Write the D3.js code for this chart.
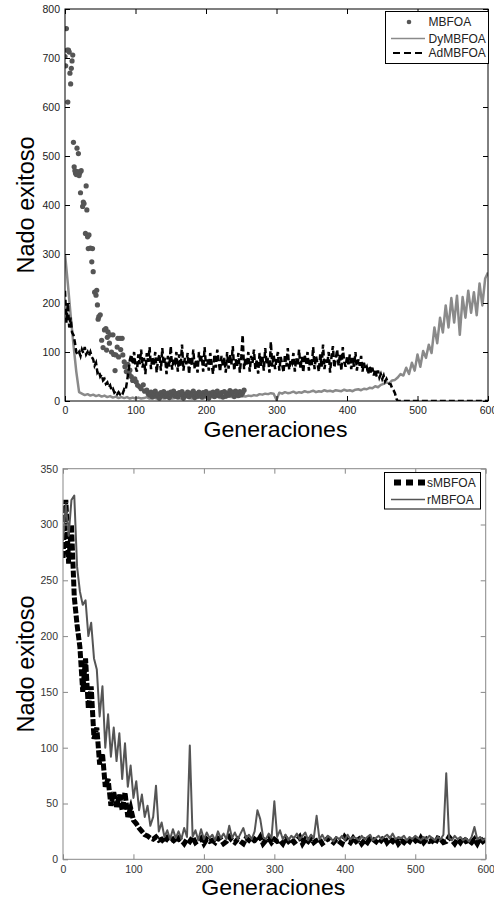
<!DOCTYPE html>
<html><head><meta charset="utf-8">
<script src="https://cdn.jsdelivr.net/npm/d3@7"></script>
<style>body{margin:0;background:#fff}svg{display:block}text{font-family:"Liberation Sans",Arial,sans-serif}</style>
</head><body>
<script>
// ---------- DATA ----------
const genStep = 4;   // generations between stored values (DyMBFOA, sMBFOA, rMBFOA)
const adStep = 2;    // generations between stored values (AdMBFOA)
const xTickValues = [0,100,200,300,400,500,600];
const yTicksTop = [0,100,200,300,400,500,600,700,800];
const yTicksBottom = [0,50,100,150,200,250,300,350];
const xLabel = "Generaciones";
const yLabel = "Nado exitoso";

// Top panel
const mbfoaGen = [0,1,2,3,4,5,6,7,8,9,10,11,12,13,14,15,16,17,18,19,20,21,22,23,25,26,27,29,30,31,32,33,34,36,38,39,40,42,44,45,46,47,48,50,52,54,56,58,59,60,61,63,64,66,68,69,71,72,74,75,76,78,79,81,82,84,85,87,89,91,92,94,96,97,99,101,103,106,108,111,113,116,118,
 120,122,124,126,128,130,132,134,136,138,140,142,144,146,148,150,152,154,156,158,160,162,164,166,168,170,172,174,176,178,180,182,184,186,188,190,192,194,196,198,200,202,204,206,208,210,212,214,216,218,220,222,224,226,228,230,232,234,236,238,240,242,244,246,248,250,252,254];
const mbfoaVal = [703,684,760,716,610,716,712,669,647,679,694,706,528,478,470,465,462,516,468,505,460,466,425,470,397,406,403,342,439,390,335,311,339,312,284,311,264,222,216,226,196,167,172,176,124,109,145,148,104,130,141,118,135,100,135,95,62,94,110,128,90,128,105,128,94,80,70,60,75,55,63,50,42,43,45,39,32,29,25,33,20,22,15,
 12,18,8,15,20,10,14,6,17,11,19,9,13,16,7,18,12,20,10,15,8,17,13,19,6,14,11,18,9,16,12,20,7,15,10,18,13,8,17,11,19,14,6,16,12,18,9,15,20,11,13,17,8,19,10,16,12,21,14,18,9,20,15,11,19,13,17,22];
const dymbfoa = [300,240,175,115,60,18,15,12,14,11,13,10,12,9,11,8,10,7,9,6,8,6,8,5,7,5,
 7,5,6,8,5,7,6,4,7,5,6,8,5,6,7,5,6,8,6,5,7,6,8,5,7,6,8,7,9,6,8,7,9,8,10,8,9,10,
 9,11,10,12,11,14,13,15,14,16,15,2,17,15,18,16,17,19,16,18,17,20,18,19,21,18,20,19,22,20,21,19,22,21,20,23,21,
 22,20,23,24,22,25,24,27,26,30,28,33,35,38,36,42,43,48,55,
 52,68,55,78,62,95,70,102,88,115,98,150,118,170,140,195,150,210,160,215,135,212,170,225,180,222,175,240,195,250,262];
const admbfoa = [225,160,200,150,170,140,135,120,100,95,100,92,105,98,110,95,100,92,100,90,
 85,72,78,58,62,50,54,42,45,35,38,28,32,22,25,17,20,14,18,14,19,16,24,22,40,60,84,95,75,100,70,
 60,95,75,105,68,88,55,98,80,110,
 65,90,72,100,58,85,95,62,108,75,
 88,55,92,70,112,64,85,78,100,60,
 95,70,115,62,88,75,98,55,90,72,
 105,65,85,58,100,78,92,60,110,70,
 85,62,98,75,55,95,68,105,80,60,
 92,72,88,58,100,66,95,75,112,62,
 85,70,98,58,90,135,65,88,72,100,
 60,92,78,105,65,85,56,98,72,90,
 62,108,75,88,58,121,70,95,65,85,
 100,62,90,75,58,95,70,108,64,85,
 78,98,60,88,72,105,66,90,58,95,
 75,100,62,88,70,110,65,92,78,60,
 95,70,115,65,85,75,100,58,90,112,
 68,85,105,72,95,62,110,80,70,90,
 75,95,65,88,70,100,62,85,72,92,
 60,78,65,70,55,72,58,68,52,65,
 50,62,48,55,45,52,40,45,38,35,
 34,26,22,16,5,0,0,0,0,0,
 0,0,0,0,0,0,0,0,0,0,0,0,0,0,0,0,0,0,0,0,0,0,0,0,0,0,0,0,0,0,
 0,0,0,0,0,0,0,0,0,0,0,0,0,0,0,0,0,0,0,0,0,0,0,0,0,0,0,0,0,0];

// Bottom panel
const smbfoa = [270,322,265,300,235,210,190,150,180,135,155,108,118,85,95,65,72,48,60,47,58,44,60,38,46,35,32,28,25,22,21,19,18,20,17,18,15,19,
 16,18,15,19,17,14,18,16,20,15,17,19,14,18,16,17,15,19,18,14,16,20,17,15,18,16,14,19,17,15,18,16,20,14,17,19,15,18,16,17,
 14,19,16,18,15,17,20,14,18,16,19,15,17,18,14,16,19,17,15,18,16,14,20,17,15,19,16,18,14,17,15,19,18,16,14,17,20,15,18,16,
 19,14,17,15,18,16,20,17,14,19,15,18,16,17,14,19,18,15,16,20,17,14,18,15,19,16,17,15,18,14,19,16,18];
const rmbfoa = [285,318,290,322,326,262,240,228,232,200,
 212,180,170,128,155,100,130,92,118,88,
 113,72,104,65,84,55,70,44,58,38,
 48,30,38,66,25,33,20,26,18,27,
 19,25,18,28,20,102,20,26,17,27,
 18,24,19,22,17,25,19,23,18,30,
 19,24,18,23,28,19,22,18,25,44,
 36,20,18,23,19,52,20,26,18,22,
 17,21,19,23,18,21,24,17,22,19,
 39,18,22,17,21,19,16,20,18,21,
 17,22,18,20,19,17,21,18,20,22,
 17,19,21,18,20,22,19,23,18,20,
 19,21,17,20,18,21,19,17,20,18,
 21,19,17,20,18,22,77,19,17,21,
 18,20,17,19,16,20,29,18,20,17,
 19];

// ---------- DRAW ----------
const svg = d3.select("body").append("svg").attr("width",494).attr("height",903);

function drawAxes(g, x, y, yTicks, boxColor, labColor) {
  const w = x.range()[1]-x.range()[0], h = y.range()[0]-y.range()[1];
  const style = (sel) => {
    sel.select(".domain").remove();
    sel.selectAll(".tick line").attr("stroke", boxColor);
    sel.selectAll(".tick text").attr("fill", labColor).style("font-size","10.5px").style("font-family",'"Liberation Sans",Arial,sans-serif');
  };
  g.append("g").attr("transform",`translate(0,${y.range()[0]})`)
    .call(d3.axisBottom(x).tickValues(xTickValues).tickSize(-5).tickPadding(6)).call(style);
  g.append("g").attr("transform",`translate(0,${y.range()[1]})`)
    .call(d3.axisTop(x).tickValues(xTickValues).tickSize(-5).tickFormat("")).call(style);
  g.append("g").attr("transform",`translate(${x.range()[0]},0)`)
    .call(d3.axisLeft(y).tickValues(yTicks).tickSize(-5).tickPadding(5)).call(style);
  g.append("g").attr("transform",`translate(${x.range()[1]},0)`)
    .call(d3.axisRight(y).tickValues(yTicks).tickSize(-5).tickFormat("")).call(style);
  g.append("rect").attr("x",x.range()[0]).attr("y",y.range()[1]).attr("width",w).attr("height",h)
    .attr("fill","none").attr("stroke",boxColor).attr("stroke-width",1);
}

function titles(g, x, y, xBase, yBase) {
  const cx = (x.range()[0]+x.range()[1])/2 - 1;
  g.append("text").attr("x",cx).attr("y",xBase).attr("text-anchor","middle")
    .style("font-size","22px").attr("textLength",144).attr("lengthAdjust","spacingAndGlyphs").text(xLabel);
  const cy = (y.range()[0]+y.range()[1])/2;
  g.append("text").attr("transform",`translate(${yBase},${cy}) rotate(-90)`).attr("text-anchor","middle")
    .style("font-size","23.5px").text(yLabel);
}

// ----- Top panel -----
{
  const g = svg.append("g");
  const x = d3.scaleLinear().domain([0,600]).range([65,488]);
  const y = d3.scaleLinear().domain([0,800]).range([401,9]);
  const lineDy = d3.line().x((d,i)=>x(i*genStep)).y(d=>y(d));
  const lineAd = d3.line().x((d,i)=>x(i*adStep)).y(d=>y(d));
  g.append("clipPath").attr("id","clipTop").append("rect")
    .attr("x",65).attr("y",9).attr("width",423).attr("height",392);
  const plot = g.append("g").attr("clip-path","url(#clipTop)");
  plot.append("path").datum(dymbfoa).attr("d",lineDy).attr("fill","none")
    .attr("stroke","#8a8a8a").attr("stroke-width",2.5).attr("stroke-linejoin","round");
  plot.selectAll("circle.mb").data(mbfoaVal).join("circle").attr("class","mb")
    .attr("cx",(d,i)=>x(mbfoaGen[i])).attr("cy",d=>y(d)).attr("r",2.6).attr("fill","#555");
  plot.append("path").datum(admbfoa).attr("d",lineAd).attr("fill","none")
    .attr("stroke","#000").attr("stroke-width",2.5).attr("stroke-dasharray","6,3");
  drawAxes(g, x, y, yTicksTop, "#000", "#222");
  titles(g, x, y, 437, 34);
  const lg = g.append("g");
  lg.append("rect").attr("x",385.5).attr("y",11.5).attr("width",103).attr("height",52)
    .attr("fill","#fff").attr("stroke","#000");
  const names = ["MBFOA","DyMBFOA","AdMBFOA"], ly = [23,39.5,54];
  lg.append("circle").attr("cx",409).attr("cy",ly[0]-1).attr("r",2.3).attr("fill","#555");
  lg.append("line").attr("x1",391).attr("x2",425).attr("y1",ly[1]-1).attr("y2",ly[1]-1).attr("stroke","#8a8a8a").attr("stroke-width",1.5);
  lg.append("line").attr("x1",393).attr("x2",426).attr("y1",ly[2]-1).attr("y2",ly[2]-1).attr("stroke","#000").attr("stroke-width",2).attr("stroke-dasharray","7,4");
  names.forEach((n,i)=>lg.append("text").attr("x",428.5).attr("y",ly[i]+3).style("font-size","12px").attr("fill","#222").text(n));
}

// ----- Bottom panel -----
{
  const g = svg.append("g");
  const x = d3.scaleLinear().domain([0,600]).range([63,485.7]);
  const y = d3.scaleLinear().domain([0,350]).range([859.3,468.7]);
  const line = d3.line().x((d,i)=>x(i*genStep)).y(d=>y(d));
  g.append("clipPath").attr("id","clipBot").append("rect")
    .attr("x",63).attr("y",468.7).attr("width",422.7).attr("height",390.6);
  const plot = g.append("g").attr("clip-path","url(#clipBot)");
  plot.append("path").datum(smbfoa).attr("d",line).attr("fill","none")
    .attr("stroke","#000").attr("stroke-width",5).attr("stroke-dasharray","7,2");
  plot.append("path").datum(rmbfoa).attr("d",line).attr("fill","none")
    .attr("stroke","#555").attr("stroke-width",2).attr("stroke-linejoin","round");
  drawAxes(g, x, y, yTicksBottom, "#888", "#333");
  titles(g, x, y, 895, 34);
  const lg = g.append("g");
  lg.append("rect").attr("x",384.5).attr("y",472.5).attr("width",96).attr("height",36.5)
    .attr("fill","#fff").attr("stroke","#000");
  lg.append("line").attr("x1",394).attr("x2",426).attr("y1",482.5).attr("y2",482.5).attr("stroke","#000").attr("stroke-width",6).attr("stroke-dasharray","7,5");
  lg.append("line").attr("x1",391).attr("x2",425).attr("y1",499.5).attr("y2",499.5).attr("stroke","#555").attr("stroke-width",1.5);
  lg.append("text").attr("x",427).attr("y",487).style("font-size","12px").attr("fill","#222").text("sMBFOA");
  lg.append("text").attr("x",427).attr("y",504).style("font-size","12px").attr("fill","#222").text("rMBFOA");
}
</script>
</body></html>
